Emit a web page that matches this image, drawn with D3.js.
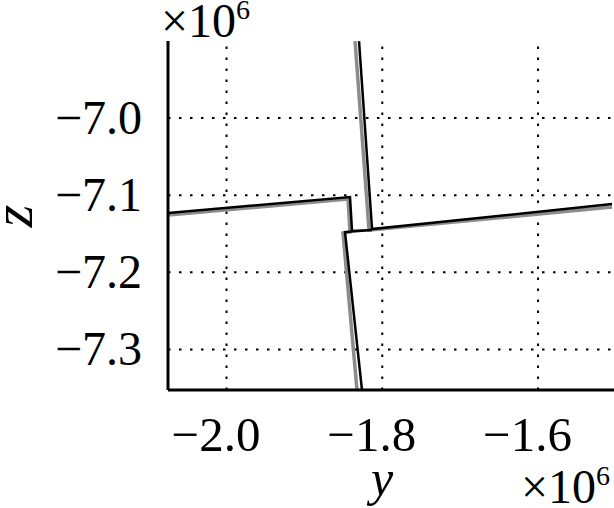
<!DOCTYPE html>
<html>
<head>
<meta charset="utf-8">
<script src="https://d3js.org/d3.v7.min.js"></script>
<style>
	body { margin: 0; background: #fff; }
	svg { display: block; }
	text { font-family: "Liberation Serif", "Times New Roman", serif; fill: #000; }
</style>
</head>
<body>
<script>
// values in units of 10^6
var yTicks = [-2.0, -1.8, -1.6];
var zTicks = [-7.0, -7.1, -7.2, -7.3];

// black trajectory
var blackLine1 = [[-2.0745, -7.1239], [-1.8408, -7.1031], [-1.8382, -7.1472], [-1.8125, -7.1459], [-1.8472, -7.1485], [-1.8254, -7.3534]];
var blackLine2 = [[-1.8292, -6.9010], [-1.8125, -7.1446], [-1.5043, -7.1122]];
// gray trajectory
var grayLine1 = [[-2.0745, -7.1265], [-1.8433, -7.1057], [-1.8408, -7.1485], [-1.8498, -7.1498], [-1.8318, -7.3534]];
var grayLine2 = [[-1.8343, -6.9010], [-1.8164, -7.1459], [-1.5043, -7.1161]];

var width = 614;
var height = 508;
var plotLeft = 168, plotRight = 614, plotTop = 41, plotBottom = 390;

var svg = d3.select("body")
			.append("svg")
			.attr("width", width)
			.attr("height", height);

var xScale = d3.scaleLinear()
			.domain([-2.0745, -1.5018])
			.range([plotLeft, plotRight]);

var yScale = d3.scaleLinear()
			.domain([-6.9008, -7.3532])
			.range([plotTop, plotBottom]);

var fmt = d3.format(".1f");

// dotted grid
var xGrid = d3.axisBottom(xScale).tickValues(yTicks).tickSize(-(plotBottom - plotTop)).tickFormat("");
var yGrid = d3.axisLeft(yScale).tickValues(zTicks).tickSize(-(plotRight - plotLeft)).tickFormat("");

svg.append("g")
	.attr("transform", "translate(0," + plotBottom + ")")
	.call(xGrid)
	.call(function(g){ g.select(".domain").remove(); })
	.selectAll("line")
		.attr("stroke", "#000")
		.attr("stroke-width", 2)
		.attr("stroke-dasharray", "2.5,8.5");

svg.append("g")
	.attr("transform", "translate(" + plotLeft + ",0)")
	.call(yGrid)
	.call(function(g){ g.select(".domain").remove(); })
	.selectAll("line")
		.attr("stroke", "#000")
		.attr("stroke-width", 2)
		.attr("stroke-dasharray", "2.5,8.5");

svg.append("clipPath")
	.attr("id", "plotclip")
	.append("rect")
		.attr("x", plotLeft)
		.attr("y", plotTop)
		.attr("width", plotRight - plotLeft)
		.attr("height", plotBottom - plotTop);

var line = d3.line()
			.x(function(d){ return xScale(d[0]); })
			.y(function(d){ return yScale(d[1]); });

var plot = svg.append("g").attr("clip-path", "url(#plotclip)");

plot.selectAll("path.gray")
	.data([grayLine1, grayLine2])
	.enter()
		.append("path")
		.attr("class", "gray")
		.attr("d", line)
		.attr("fill", "none")
		.attr("stroke", "#8c8c8c")
		.attr("stroke-width", 3.5);

plot.selectAll("path.black")
	.data([blackLine1, blackLine2])
	.enter()
		.append("path")
		.attr("class", "black")
		.attr("d", line)
		.attr("fill", "none")
		.attr("stroke", "#000")
		.attr("stroke-width", 2.5);

// axes lines
svg.append("line")
	.attr("x1", plotLeft).attr("x2", plotLeft)
	.attr("y1", plotTop).attr("y2", plotBottom)
	.attr("stroke", "#000").attr("stroke-width", 3);

svg.append("line")
	.attr("x1", plotLeft).attr("x2", plotRight)
	.attr("y1", plotBottom).attr("y2", plotBottom)
	.attr("stroke", "#000").attr("stroke-width", 3);

// tick labels
svg.selectAll("text.xtick")
	.data(yTicks)
	.enter()
		.append("text")
		.attr("class", "xtick")
		.attr("x", function(d){ return xScale(d) - 10; })
		.attr("y", 451)
		.attr("text-anchor", "middle")
		.attr("font-size", "49px")
		.text(function(d){ return fmt(d); });

svg.selectAll("text.ytick")
	.data(zTicks)
	.enter()
		.append("text")
		.attr("class", "ytick")
		.attr("x", 142)
		.attr("y", function(d){ return yScale(d) + 16; })
		.attr("text-anchor", "end")
		.attr("font-size", "48px")
		.text(function(d){ return fmt(d); });

// axis titles
svg.append("text")
	.attr("x", 382)
	.attr("y", 495)
	.attr("text-anchor", "middle")
	.attr("font-size", "50px")
	.attr("font-style", "italic")
	.text("y");

svg.append("text")
	.attr("transform", "translate(32,216) rotate(-90)")
	.attr("text-anchor", "middle")
	.attr("font-size", "58px")
	.attr("font-style", "italic")
	.text("z");

// exponent labels
function exponent(x, y){
	var t = svg.append("text")
				.attr("x", x)
				.attr("y", y)
				.attr("font-size", "48px");
	t.append("tspan").text("×10");
	t.append("tspan")
		.attr("font-size", "28px")
		.attr("dy", "-18")
		.text("6");
}
exponent(161, 37);
exponent(521, 503);
</script>
</body>
</html>
